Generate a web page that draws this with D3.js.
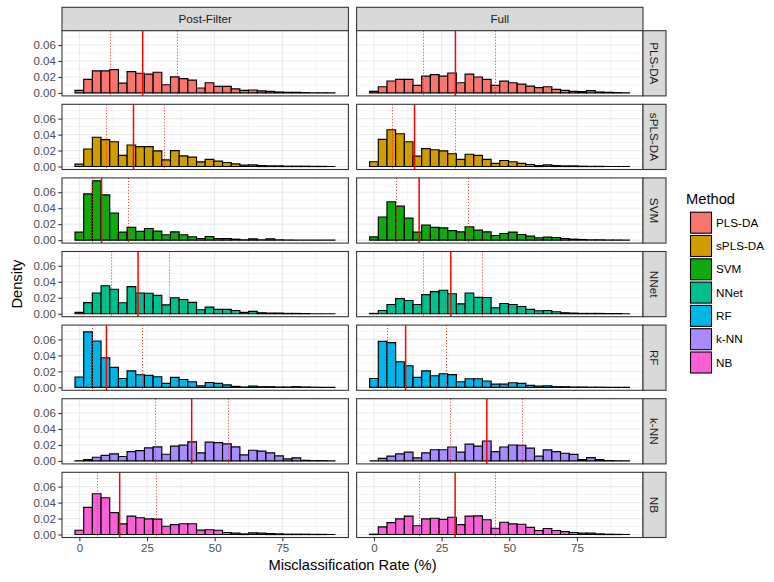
<!DOCTYPE html>
<html><head><meta charset="utf-8">
<script src="https://cdn.jsdelivr.net/npm/d3@7"></script>
<style>
body{margin:0;background:#fff}
svg{display:block}
text{font-family:"Liberation Sans",Arial,Helvetica,sans-serif}
</style>
</head><body>
<svg id="chart" width="774" height="582"></svg>
<script>
// ---------- data ----------
const methods = ["PLS-DA","sPLS-DA","SVM","NNet","RF","k-NN","NB"];
const conditions = ["Post-Filter","Full"];
const colors = ["#F8766D","#D09C00","#10AA10","#00BF8F","#00B5E8","#A88BFF","#FB5FD7"];
const binCenters = [0,3.21,6.41,9.62,12.83,16.03,19.24,22.45,25.66,28.86,32.07,35.28,38.48,41.69,44.90,
                    48.10,51.31,54.52,57.72,60.93,64.14,67.34,70.55,73.76,76.97,80.17,83.38,86.59,89.79,93.00];
const binWidth = 3.207;
const xTicks = [0,25,50,75];
const xMinor = [12.5,37.5,62.5,87.5];
const yTicks = [0,0.02,0.04,0.06];
const yTickLabels = ["0.00","0.02","0.04","0.06"];
const yMinor = [0.01,0.03,0.05,0.07];

const plsdaPost  = [0.0033,0.0169,0.0276,0.0276,0.0292,0.0123,0.0267,0.0247,0.0235,0.0259,0.0103,0.0202,0.0180,0.0160,0.0062,0.0128,0.0082,0.0082,0.0050,0.0033,0.0037,0.0025,0.0020,0.0012,0.0008,0.0008,0.0004,0.0000,0.0002,0.0000];
const plsdaFull  = [0.0020,0.0078,0.0150,0.0169,0.0169,0.0095,0.0210,0.0230,0.0210,0.0250,0.0128,0.0235,0.0200,0.0170,0.0095,0.0148,0.0128,0.0110,0.0086,0.0066,0.0078,0.0045,0.0033,0.0020,0.0016,0.0029,0.0012,0.0008,0.0004,0.0000];
const splsdaPost = [0.0030,0.0220,0.0367,0.0337,0.0310,0.0140,0.0270,0.0250,0.0250,0.0196,0.0083,0.0200,0.0133,0.0117,0.0058,0.0090,0.0067,0.0050,0.0033,0.0017,0.0020,0.0012,0.0008,0.0008,0.0004,0.0004,0.0004,0.0002,0.0002,0.0000];
const splsdaFull = [0.0060,0.0340,0.0460,0.0410,0.0310,0.0130,0.0225,0.0210,0.0196,0.0160,0.0090,0.0154,0.0140,0.0090,0.0040,0.0075,0.0060,0.0040,0.0025,0.0012,0.0020,0.0012,0.0008,0.0008,0.0004,0.0002,0.0002,0.0000,0.0000,0.0000];
const svmPost    = [0.0100,0.0580,0.0742,0.0567,0.0340,0.0100,0.0160,0.0110,0.0146,0.0113,0.0067,0.0104,0.0068,0.0042,0.0020,0.0046,0.0020,0.0020,0.0012,0.0004,0.0017,0.0004,0.0017,0.0004,0.0002,0.0000,0.0000,0.0000,0.0000,0.0000];
const svmFull    = [0.0040,0.0290,0.0480,0.0425,0.0275,0.0100,0.0190,0.0160,0.0154,0.0120,0.0104,0.0167,0.0125,0.0104,0.0058,0.0083,0.0100,0.0070,0.0050,0.0030,0.0037,0.0033,0.0020,0.0012,0.0008,0.0004,0.0004,0.0002,0.0002,0.0000];
const nnetPost   = [0.0017,0.0140,0.0260,0.0350,0.0306,0.0137,0.0340,0.0260,0.0257,0.0230,0.0110,0.0200,0.0178,0.0142,0.0050,0.0083,0.0054,0.0054,0.0041,0.0017,0.0030,0.0012,0.0008,0.0008,0.0004,0.0004,0.0002,0.0000,0.0000,0.0000];
const nnetFull   = [0.0004,0.0040,0.0116,0.0190,0.0166,0.0116,0.0240,0.0277,0.0294,0.0250,0.0124,0.0260,0.0205,0.0203,0.0075,0.0128,0.0116,0.0090,0.0054,0.0037,0.0040,0.0025,0.0012,0.0008,0.0004,0.0004,0.0004,0.0002,0.0002,0.0000];
const rfPost     = [0.0130,0.0695,0.0580,0.0370,0.0250,0.0110,0.0207,0.0157,0.0150,0.0132,0.0050,0.0124,0.0098,0.0070,0.0020,0.0060,0.0050,0.0030,0.0012,0.0004,0.0017,0.0008,0.0008,0.0004,0.0004,0.0008,0.0004,0.0002,0.0000,0.0000];
const rfFull     = [0.0110,0.0575,0.0560,0.0320,0.0270,0.0124,0.0207,0.0145,0.0170,0.0160,0.0070,0.0107,0.0107,0.0079,0.0040,0.0040,0.0058,0.0050,0.0025,0.0017,0.0020,0.0008,0.0008,0.0004,0.0004,0.0002,0.0002,0.0000,0.0000,0.0000];
const knnPost    = [0.0002,0.0017,0.0046,0.0070,0.0088,0.0055,0.0117,0.0130,0.0164,0.0176,0.0084,0.0185,0.0197,0.0239,0.0100,0.0235,0.0230,0.0214,0.0176,0.0075,0.0134,0.0122,0.0100,0.0063,0.0025,0.0038,0.0008,0.0004,0.0004,0.0000];
const knnFull    = [0.0000,0.0033,0.0060,0.0088,0.0110,0.0038,0.0100,0.0140,0.0140,0.0175,0.0110,0.0210,0.0185,0.0250,0.0117,0.0175,0.0200,0.0196,0.0160,0.0060,0.0138,0.0117,0.0096,0.0083,0.0017,0.0042,0.0017,0.0004,0.0002,0.0000];
const nbPost     = [0.0054,0.0340,0.0510,0.0460,0.0275,0.0133,0.0230,0.0210,0.0196,0.0192,0.0104,0.0125,0.0135,0.0135,0.0055,0.0060,0.0054,0.0025,0.0017,0.0008,0.0021,0.0017,0.0012,0.0008,0.0004,0.0004,0.0004,0.0002,0.0002,0.0000];
const nbFull     = [0.0004,0.0096,0.0150,0.0196,0.0230,0.0110,0.0196,0.0204,0.0190,0.0217,0.0125,0.0230,0.0233,0.0185,0.0079,0.0154,0.0133,0.0129,0.0090,0.0050,0.0075,0.0050,0.0037,0.0025,0.0017,0.0017,0.0008,0.0004,0.0002,0.0000];

// reference lines (median = solid, quartiles = dotted)
const medianPost = [23.4,20.0, 8.2,21.7,10.0,41.5,14.9];
const q1Post     = [11.6,10.1, 5.0,11.8, 5.0,28.3, 6.6];
const q3Post     = [36.3,31.6,18.2,33.4,23.4,55.0,28.4];
const medianFull = [30.1,15.0,16.7,28.4,11.7,41.7,30.0];
const q1Full     = [18.3, 6.7, 8.4,18.4, 5.1,28.4,16.7];
const q3Full     = [45.0,30.1,35.0,40.1,26.8,54.9,44.9];

const seriesPost = [plsdaPost,splsdaPost,svmPost,nnetPost,rfPost,knnPost,nbPost];
const seriesFull = [plsdaFull,splsdaFull,svmFull,nnetFull,rfFull,knnFull,nbFull];
const series = [seriesPost, seriesFull];
const medians = [medianPost, medianFull];
const q1s = [q1Post, q1Full];
const q3s = [q3Post, q3Full];

// ---------- layout ----------
const svg = d3.select("#chart");
const colX0 = [62, 356.6];
const panelW = 286.4;
const rowY0 = 30.7, rowPitch = 73.6, panelH = 65.2;
const stripTop = 7.3;
const stripRW = 23;
const border = "#333333";
const gridCol = "#EBEBEB";

const lo = binCenters[0] - binWidth/2, hi = binCenters[binCenters.length-1] + binWidth/2;
const xpad = 0.05*(hi-lo);
const ymax = d3.max(series.flat(2));
const yDomain = [-0.05*ymax, 1.05*ymax];

const xScales = colX0.map(x0 => d3.scaleLinear().domain([lo - xpad, hi + xpad]).range([x0, x0 + panelW]));
const yScales = methods.map((m,i) => d3.scaleLinear().domain(yDomain).range([rowY0 + i*rowPitch + panelH, rowY0 + i*rowPitch]));
const snap = v => Math.round(v - 0.5) + 0.5;

// top strips
conditions.forEach((c, ci) => {
  svg.append("rect").attr("x", colX0[ci]).attr("y", stripTop).attr("width", panelW).attr("height", rowY0 - stripTop)
    .attr("fill", "#D9D9D9").attr("stroke", border).attr("stroke-width", 1.07);
  svg.append("text").attr("x", colX0[ci] + panelW/2).attr("y", (stripTop + rowY0)/2).attr("dy", "0.35em")
    .attr("text-anchor", "middle").attr("font-size", 11.7).attr("fill", "#1A1A1A").text(c);
});

methods.forEach((m, ri) => {
  const ys = yScales[ri];
  const top = rowY0 + ri*rowPitch;
  conditions.forEach((c, ci) => {
    const xs = xScales[ci];
    const g = svg.append("g");
    g.append("rect").attr("x", colX0[ci]).attr("y", top).attr("width", panelW).attr("height", panelH).attr("fill", "#fff");
    // grid
    g.selectAll(null).data(xMinor).enter().append("line")
      .attr("x1", d => xs(d)).attr("x2", d => xs(d)).attr("y1", top).attr("y2", top + panelH)
      .attr("stroke", gridCol).attr("stroke-width", 0.53);
    g.selectAll(null).data(yMinor).enter().append("line")
      .attr("x1", colX0[ci]).attr("x2", colX0[ci] + panelW).attr("y1", d => ys(d)).attr("y2", d => ys(d))
      .attr("stroke", gridCol).attr("stroke-width", 0.53);
    g.selectAll(null).data(xTicks).enter().append("line")
      .attr("x1", d => xs(d)).attr("x2", d => xs(d)).attr("y1", top).attr("y2", top + panelH)
      .attr("stroke", gridCol).attr("stroke-width", 1.07);
    g.selectAll(null).data(yTicks).enter().append("line")
      .attr("x1", colX0[ci]).attr("x2", colX0[ci] + panelW).attr("y1", d => ys(d)).attr("y2", d => ys(d))
      .attr("stroke", gridCol).attr("stroke-width", 1.07);
    // bars
    const vals = series[ci][ri];
    g.selectAll(null).data(vals.map((v, i) => ({c: binCenters[i], v}))).enter().append("path")
      .attr("d", d => {
        const x0 = xs(d.c - binWidth/2), x1 = xs(d.c + binWidth/2), y0 = ys(0), y1 = ys(d.v);
        return `M${x0},${y0}V${y1}H${x1}V${y0}Z`;
      })
      .attr("fill", colors[ri]).attr("stroke", "#000").attr("stroke-width", 1.15);
    // reference lines
    [q1s[ci][ri], q3s[ci][ri]].forEach(v => {
      g.append("line").attr("x1", snap(xs(v))).attr("x2", snap(xs(v))).attr("y1", top).attr("y2", top + panelH)
        .attr("stroke", "#FF2020").attr("stroke-width", 1).attr("stroke-dasharray", "1,2");
    });
    g.append("line").attr("x1", xs(medians[ci][ri])).attr("x2", xs(medians[ci][ri])).attr("y1", top).attr("y2", top + panelH)
      .attr("stroke", "#FF0000").attr("stroke-width", 1.5);
    // border
    g.append("rect").attr("x", colX0[ci]).attr("y", top).attr("width", panelW).attr("height", panelH)
      .attr("fill", "none").attr("stroke", border).attr("stroke-width", 1.07);
  });
  // right strip
  const sx = colX0[1] + panelW;
  svg.append("rect").attr("x", sx).attr("y", top).attr("width", stripRW).attr("height", panelH)
    .attr("fill", "#D9D9D9").attr("stroke", border).attr("stroke-width", 1.07);
  svg.append("text").attr("transform", `translate(${sx + stripRW/2},${top + panelH/2}) rotate(90)`)
    .attr("dy", "0.35em").attr("text-anchor", "middle").attr("font-size", 11.7).attr("fill", "#1A1A1A").text(m);
  // y axis
  const ya = svg.append("g").attr("transform", `translate(${colX0[0]},0)`)
    .call(d3.axisLeft(ys).tickValues(yTicks).tickFormat((d, i) => yTickLabels[i]).tickSize(3.7).tickPadding(2.5));
  ya.select(".domain").remove();
  ya.selectAll(".tick line").attr("stroke", border).attr("stroke-width", 1.07);
  ya.selectAll(".tick text").attr("font-size", 11.5).attr("fill", "#4D4D4D")
    .attr("font-family", '"Liberation Sans",Arial,sans-serif');
});

// x axes
const bottom = rowY0 + (methods.length-1)*rowPitch + panelH;
xScales.forEach(xs => {
  const xa = svg.append("g").attr("transform", `translate(0,${bottom})`)
    .call(d3.axisBottom(xs).tickValues(xTicks).tickFormat(d3.format("d")).tickSize(3.7).tickPadding(2.5));
  xa.select(".domain").remove();
  xa.selectAll(".tick line").attr("stroke", border).attr("stroke-width", 1.07);
  xa.selectAll(".tick text").attr("font-size", 11.5).attr("fill", "#4D4D4D")
    .attr("font-family", '"Liberation Sans",Arial,sans-serif');
});

// axis titles
svg.append("text").attr("x", (colX0[0] + colX0[1] + panelW)/2).attr("y", 570)
  .attr("text-anchor", "middle").attr("font-size", 14.7).attr("fill", "#000").text("Misclassification Rate (%)");
svg.append("text").attr("transform", `translate(21.5,${(rowY0 + bottom)/2}) rotate(-90)`)
  .attr("text-anchor", "middle").attr("font-size", 14.7).attr("fill", "#000").text("Density");

// legend
const lg = svg.append("g");
lg.append("text").attr("x", 686).attr("y", 204).attr("font-size", 14.7).attr("fill", "#000").text("Method");
methods.forEach((m, i) => {
  const ky = 211.7 + i*23.3;
  lg.append("rect").attr("x", 690.5).attr("y", ky + 0.5).attr("width", 21).attr("height", 21)
    .attr("fill", colors[i]).attr("stroke", "#000").attr("stroke-width", 1.1);
  lg.append("text").attr("x", 716).attr("y", ky + 11).attr("dy", "0.35em").attr("font-size", 11.7)
    .attr("fill", "#000").text(m);
});
</script>
</body></html>
